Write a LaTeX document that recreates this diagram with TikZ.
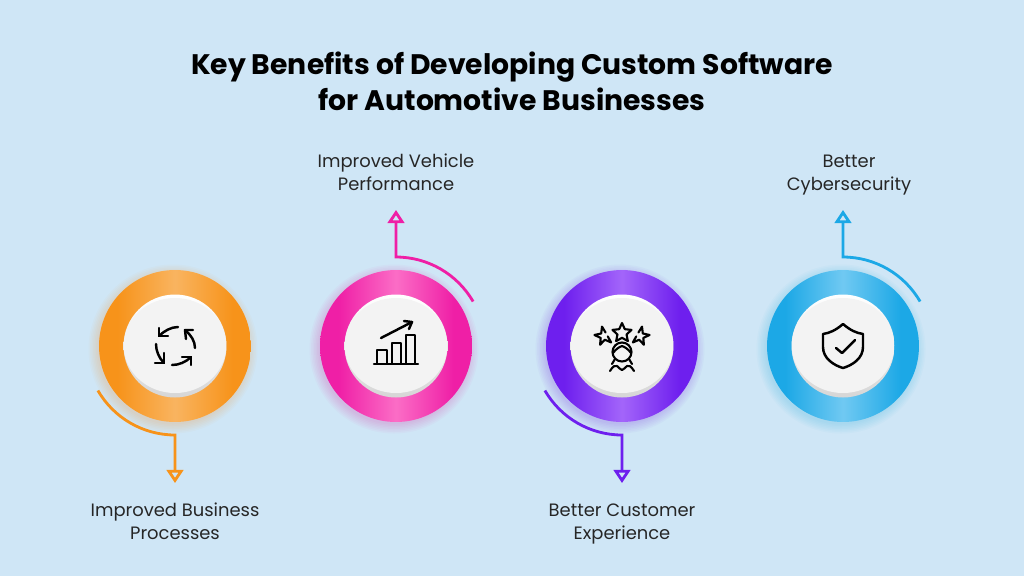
\documentclass[tikz,border=0pt]{standalone}
\usepackage{fontspec}
\setmainfont{Poppins}
\usepackage{tikz}
\usetikzlibrary{arrows.meta,shapes.geometric}

\definecolor{pagebg}{HTML}{CFE6F6}
\definecolor{orangedark}{HTML}{F7931A}
\definecolor{orangelight}{HTML}{F9B460}
\definecolor{pinkdark}{HTML}{EF1FA6}
\definecolor{pinklight}{HTML}{FB6DC6}
\definecolor{purpledark}{HTML}{6E1FEE}
\definecolor{purplelight}{HTML}{A365FA}
\definecolor{bluedark}{HTML}{1CA8E6}
\definecolor{bluelight}{HTML}{70C9F2}
\definecolor{faceface}{HTML}{F3F3F3}
\definecolor{facerim}{HTML}{D6D6D6}
\colorlet{ringdark}{orangedark}
\colorlet{ringlight}{orangelight}
\pgfdeclarehorizontalshading[ringdark,ringlight]{ringshade}{100bp}{color(0bp)=(ringdark); color(31bp)=(ringdark); color(50bp)=(ringlight); color(69bp)=(ringdark); color(100bp)=(ringdark)}

\tikzset{
    titletext/.style={font=\fontsize{16.07}{20.6}\selectfont\bfseries,align=center,text=black},
    labeltext/.style={font=\fontsize{10.2}{13}\selectfont,align=center,text=black!85,execute at begin node=\strut,execute at end node=\strut},
    ringface/.style={circle,minimum size=3.04cm,inner sep=0pt,shading=ringshade},
    rimface/.style={circle,minimum size=2.06cm,inner sep=0pt,top color=white,bottom color=facerim},
    capface/.style={ellipse,minimum width=2.05cm,minimum height=1.9cm,inner sep=0pt,fill=faceface},
    iconline/.style={black,line width=1.4pt,line cap=round,line join=round},
    benefitline/.style={line width=1.6pt,-{Triangle[open,length=7.5pt,width=9.5pt,line width=1.6pt]}},
}

\begin{document}
\begin{tikzpicture}[x=0.02cm,y=-0.02cm]
    \useasboundingbox (0,0) rectangle (1024,576);
    \fill[pagebg] (0,0) rectangle (1024,576);

    \node[titletext] (title) at (512,81) {Key Benefits of Developing Custom Software\\for Automotive Businesses};

    % rings, faces
    \foreach \name/\cx/\dark/\light in {A/175/orangedark/orangelight,B/396/pinkdark/pinklight,C/622/purpledark/purplelight,D/843/bluedark/bluelight}{
        \foreach \grow in {1,...,7}
            \fill[\dark,opacity=0.03] (\cx-2,349) circle (74+1.5*\grow);
        \colorlet{ringdark}{\dark}
        \colorlet{ringlight}{\light}
        \node[ringface] (ring\name) at (\cx,346) {};
        \node[rimface] (rim\name) at (\cx,346) {};
        \node[capface] (cap\name) at (\cx,345.5) {};
    }

    \node[labeltext] (labelA) at (175,525) {Improved Business\\Processes};
    \node[labeltext] (labelB) at (396,175.5) {Improved Vehicle\\Performance};
    \node[labeltext] (labelC) at (622,525) {Better Customer\\Experience};
    \node[labeltext] (labelD) at (849,176.5) {Better\\Cybersecurity};

    \coordinate (tipA) at (175,483);
    \coordinate (tipB) at (396,210);
    \coordinate (tipC) at (622,483);
    \coordinate (tipD) at (843,210);

    % connectors
    \draw[benefitline,orangedark] (ringA.center) ++(150:89) arc[start angle=150,end angle=90,radius=89] -- (tipA);
    \draw[benefitline,pinkdark] (ringB.center) ++(-30:89) arc[start angle=-30,end angle=-90,radius=89] -- (tipB);
    \draw[benefitline,purpledark] (ringC.center) ++(150:89) arc[start angle=150,end angle=90,radius=89] -- (tipC);
    \draw[benefitline,bluedark] (ringD.center) ++(-30:89) arc[start angle=-30,end angle=-90,radius=89] -- (tipD);

    % icon A
    \draw[iconline] (178,327) .. controls (171,327) and (164,331) .. (159,336);
    \draw[iconline] (159,328) -- (159,336) -- (168,336);
    \draw[iconline] (195,348) .. controls (195,341) and (191,335) .. (185,330);
    \draw[iconline] (193,330) -- (185,330) -- (186,339);
    \draw[iconline] (172,365) .. controls (179,365) and (186,362) .. (191,357);
    \draw[iconline] (182,357) -- (191,357) -- (191,365);
    \draw[iconline] (156,344) .. controls (156,351) and (159,358) .. (164,363);
    \draw[iconline] (155,363) -- (164,363) -- (164,353);

    % icon B
    \draw[iconline] (374,364) -- (418,364);
    \draw[iconline,line width=1.1pt] (377,364) -- (377,350) -- (387,350) -- (387,364);
    \draw[iconline,line width=1.1pt] (392,364) -- (392,343) -- (401,343) -- (401,364);
    \draw[iconline,line width=1.1pt] (406,364) -- (406,335) -- (415,335) -- (415,364);
    \draw[iconline] (381,338) -- (412,322);
    \draw[iconline] (404,321) -- (412,322) -- (409,329);

    % icon C
    \node[star,star points=5,star point ratio=2.1,minimum size=0.4cm,inner sep=0pt,draw,iconline,line width=1.2pt] (starmid) at (622,333) {};
    \draw[iconline,line width=1.2pt] plot[shift={(604,336)},samples at={6,42,...,294}] (\x:{6.7+2.9*cos(5*(\x-42))});
    \draw[iconline,line width=1.2pt] plot[shift={(640,336)},samples at={174,138,...,-114}] (\x:{6.7+2.9*cos(5*(\x-138))});
    \node[circle,minimum size=0.38cm,inner sep=0pt,draw,iconline,line width=1.2pt] (medal) at (622,352) {};
    \draw[iconline,line width=1.2pt] (613,353) .. controls (616,349) and (619,347) .. (622,346) .. controls (625,347) and (628,349) .. (631,353);
    \draw[iconline,line width=1.2pt] (615,359) -- (612,364);
    \draw[iconline,line width=1.2pt] (629,359) -- (632,364);
    \draw[iconline,line width=1.2pt] (610,371) .. controls (613,366) and (615,365) .. (617,366) .. controls (619,367) and (620,370) .. (622,370) .. controls (624,370) and (625,367) .. (627,366) .. controls (629,365) and (631,366) .. (634,371);

    % icon D
    \draw[iconline] (843,324) .. controls (836,330) and (830,333) .. (823,334) -- (823,347) .. controls (823,358) and (833,365) .. (843,368) .. controls (853,365) and (863,358) .. (863,347) -- (863,334) .. controls (856,333) and (850,330) .. (843,324) -- cycle;
    \draw[iconline] (836,348) -- (842,353) -- (855,340);
\end{tikzpicture}
\end{document}
